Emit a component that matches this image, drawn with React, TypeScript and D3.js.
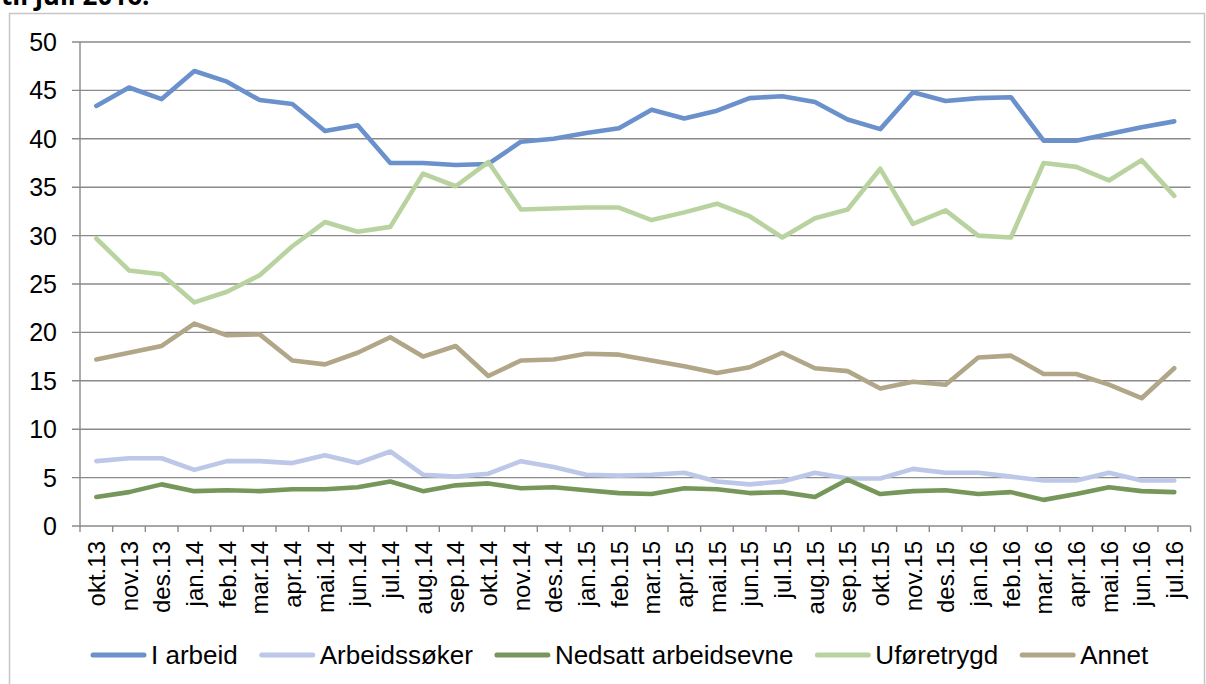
import * as d3 from "d3";

const months = [
  "okt.13", "nov.13", "des.13",
  "jan.14", "feb.14", "mar.14", "apr.14", "mai.14", "jun.14", "jul.14", "aug.14", "sep.14", "okt.14", "nov.14", "des.14",
  "jan.15", "feb.15", "mar.15", "apr.15", "mai.15", "jun.15", "jul.15", "aug.15", "sep.15", "okt.15", "nov.15", "des.15",
  "jan.16", "feb.16", "mar.16", "apr.16", "mai.16", "jun.16", "jul.16",
];

const iArbeid = [
  43.4, 45.3, 44.1, 47.0, 45.9, 44.0, 43.6, 40.8, 41.4, 37.5, 37.5, 37.3, 37.4, 39.7, 40.0,
  40.6, 41.1, 43.0, 42.1, 42.9, 44.2, 44.4, 43.8, 42.0, 41.0, 44.8, 43.9,
  44.2, 44.3, 39.8, 39.8, 40.5, 41.2, 41.8,
];
const arbeidssoker = [
  6.7, 7.0, 7.0, 5.8, 6.7, 6.7, 6.5, 7.3, 6.5, 7.7, 5.3, 5.1, 5.4, 6.7, 6.1,
  5.3, 5.2, 5.3, 5.5, 4.6, 4.3, 4.6, 5.5, 4.9, 4.9, 5.9, 5.5,
  5.5, 5.1, 4.7, 4.7, 5.5, 4.7, 4.7,
];
const nedsatt = [
  3.0, 3.5, 4.3, 3.6, 3.7, 3.6, 3.8, 3.8, 4.0, 4.6, 3.6, 4.2, 4.4, 3.9, 4.0,
  3.7, 3.4, 3.3, 3.9, 3.8, 3.4, 3.5, 3.0, 4.8, 3.3, 3.6, 3.7,
  3.3, 3.5, 2.7, 3.3, 4.0, 3.6, 3.5,
];
const uforetrygd = [
  29.7, 26.4, 26.0, 23.1, 24.2, 25.9, 28.9, 31.4, 30.4, 30.9, 36.4, 35.1, 37.6, 32.7, 32.8,
  32.9, 32.9, 31.6, 32.4, 33.3, 32.0, 29.8, 31.8, 32.7, 36.9, 31.2, 32.6,
  30.0, 29.8, 37.5, 37.1, 35.7, 37.8, 34.1,
];
const annet = [
  17.2, 17.9, 18.6, 20.9, 19.7, 19.8, 17.1, 16.7, 17.9, 19.5, 17.5, 18.6, 15.5, 17.1, 17.2,
  17.8, 17.7, 17.1, 16.5, 15.8, 16.4, 17.9, 16.3, 16.0, 14.2, 14.9, 14.6,
  17.4, 17.6, 15.7, 15.7, 14.6, 13.2, 16.3,
];

const seriesNames = ["I arbeid", "Arbeidssøker", "Nedsatt arbeidsevne", "Uføretrygd", "Annet"];
const seriesValues = [iArbeid, arbeidssoker, nedsatt, uforetrygd, annet];
const seriesColors = ["#6a91cc", "#bdc7e8", "#77965a", "#b9d3a0", "#b1a688"];

const W = 1206;
const H = 684;
const margin = { top: 42, right: 15.4, bottom: 158, left: 80 };
const FONT = "'Liberation Sans', Arial, sans-serif";

const measure = (text, size) => {
  const ctx = document.createElement("canvas").getContext("2d");
  ctx.font = `${size}px 'Liberation Sans', Arial, sans-serif`;
  return ctx.measureText(text).width;
};

const App = () => {
  const x = d3
    .scaleBand()
    .domain(months)
    .range([margin.left, W - margin.right]);
  const y = d3
    .scaleLinear()
    .domain([0, 50])
    .range([H - margin.bottom, margin.top]);
  const cx = (m) => x(m) + x.bandwidth() / 2;

  const line = d3
    .line()
    .x((d, i) => cx(months[i]))
    .y((d) => y(d));

  const yTicks = y.ticks(10);
  const boundaries = months.map((m) => x(m)).concat([x.range()[1]]);

  // legend layout
  let lx = 91;
  const legendItems = seriesNames.map((name, i) => {
    const item = { name, color: seriesColors[i], x: lx };
    lx += 55 + 5 + measure(name, 26) + 22;
    return item;
  });

  const y0 = y(0);

  return (
    <svg
      width={W}
      height={H}
      style={{ position: "absolute", left: 0, top: 0, background: "#fff" }}
      fontFamily={FONT}
    >
      <text x={1} y={5} fontSize={26} fontWeight="bold" fill="#000" fontFamily="'Open Sans', sans-serif">
        til juli 2016.
      </text>
      <rect x={9.5} y={13.5} width={1195} height={700} fill="none" stroke="#c6c6c6" strokeWidth={1.5} />

      {/* gridlines */}
      {yTicks.map((t) => (
        <line key={"g" + t} x1={72} x2={x.range()[1]} y1={y(t)} y2={y(t)} stroke="#8a8a8a" strokeWidth={1.4} />
      ))}
      {/* y axis */}
      <line x1={margin.left} x2={margin.left} y1={y(50)} y2={y0} stroke="#8a8a8a" strokeWidth={1.4} />
      {yTicks.map((t) => (
        <text key={"yl" + t} x={57} y={y(t)} dy="0.36em" textAnchor="end" fontSize={25} fill="#000">
          {t}
        </text>
      ))}
      {/* x axis ticks */}
      {boundaries.map((b, i) => (
        <line key={"xt" + i} x1={b} x2={b} y1={y0} y2={y0 + 6} stroke="#8a8a8a" strokeWidth={1.4} />
      ))}
      {months.map((m) => (
        <text
          key={"xl" + m}
          transform={`translate(${cx(m)},${y0 + 15}) rotate(-90)`}
          dy="0.36em"
          textAnchor="end"
          fontSize={24}
          fill="#000"
        >
          {m}
        </text>
      ))}

      {/* series */}
      {seriesValues.map((vals, i) => (
        <path
          key={"s" + i}
          d={line(vals)}
          fill="none"
          stroke={seriesColors[i]}
          strokeWidth={4.6}
          strokeLinejoin="round"
          strokeLinecap="round"
        />
      ))}

      {/* legend */}
      {legendItems.map((it) => (
        <g key={"lg" + it.name}>
          <line x1={it.x + 2} x2={it.x + 53} y1={655} y2={655} stroke={it.color} strokeWidth={5} strokeLinecap="round" />
          <text x={it.x + 60} y={664} fontSize={26} fill="#000">
            {it.name}
          </text>
        </g>
      ))}
    </svg>
  );
};

export default App;
